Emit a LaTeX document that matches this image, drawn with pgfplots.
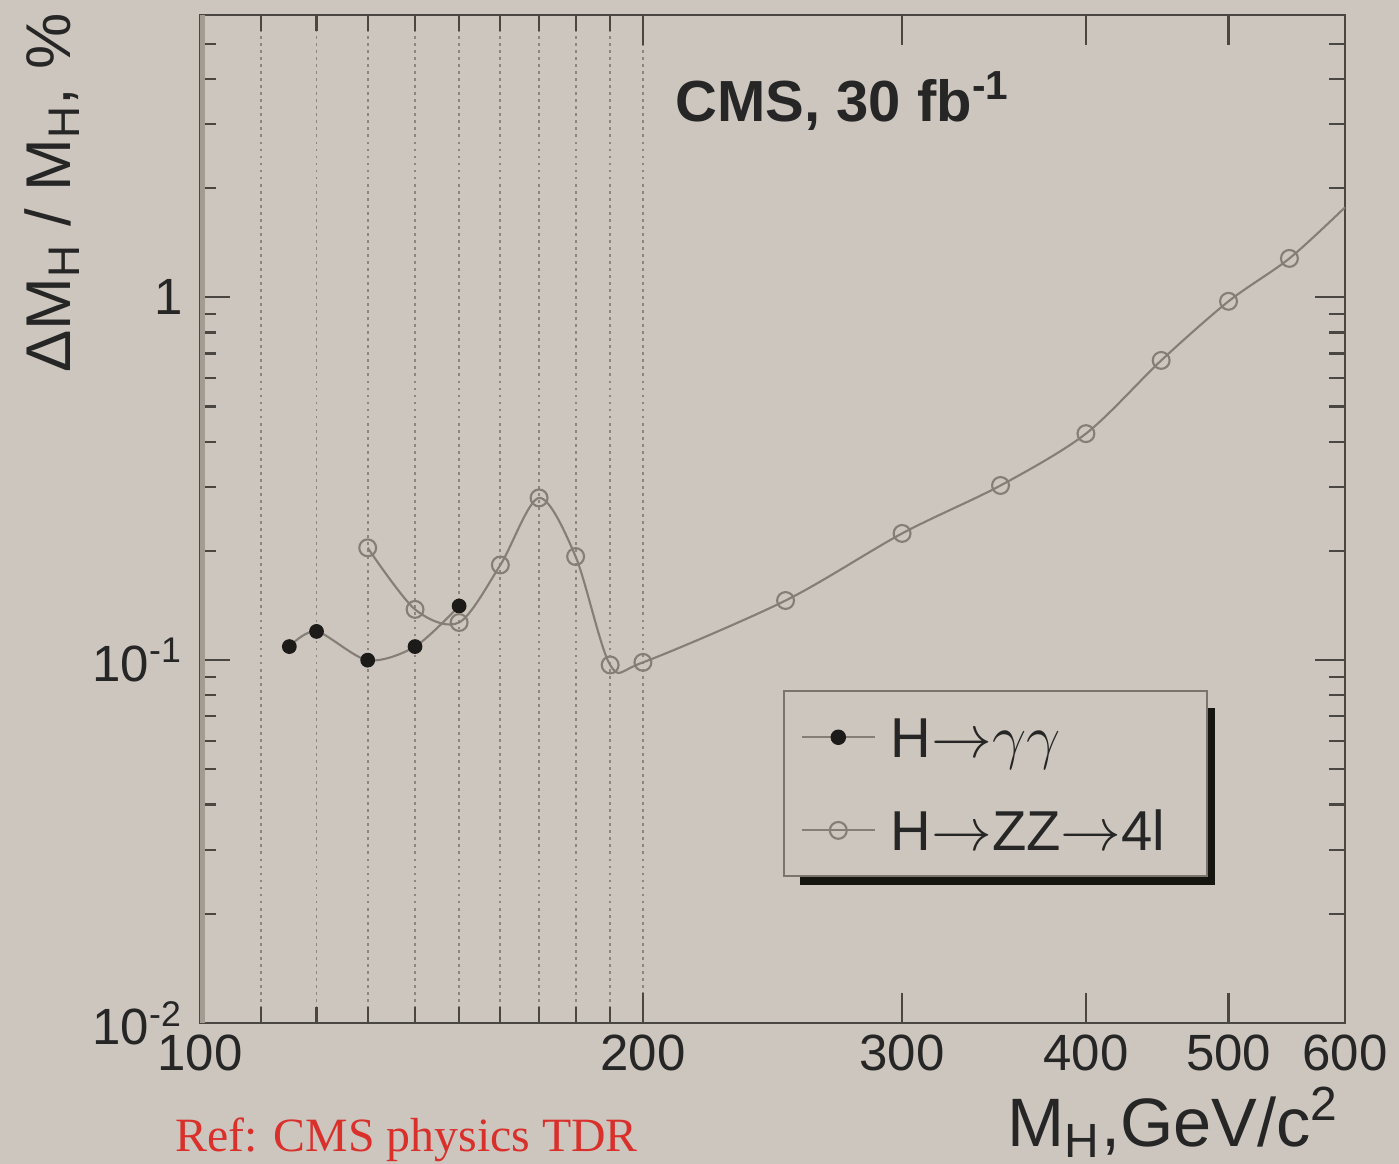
\documentclass[border=0pt]{standalone}
\usepackage{fontspec}
\setmainfont{Liberation Sans}
\newfontfamily\reffont{Liberation Serif}
\usepackage{pgfplots}
\pgfplotsset{compat=1.18}

\definecolor{bgc}{HTML}{CDC6BE}
\definecolor{axisc}{HTML}{4A4642}
\definecolor{curvec}{HTML}{857E76}
\definecolor{dotc}{HTML}{1C1B19}
\definecolor{gridc}{HTML}{8C867D}
\definecolor{bandc}{HTML}{A29C92}
\definecolor{legc}{HTML}{7A746C}
\definecolor{shadowc}{HTML}{16150F}
\definecolor{refc}{HTML}{D9302C}

\pgfplotsset{
  lineleg/.style={legend image code/.code={
      \draw[curvec, line width=0.6pt] (0cm,0cm) -- (0.73cm,0cm);
      \draw[##1] plot coordinates {(0.365cm,0cm)};}},
}

\begin{document}
\begin{tikzpicture}
\path[use as bounding box] (0,0) rectangle (13.99,11.64);
\fill[bgc] (0,0) rectangle (13.99,11.64);
% legend shadow
\fill[shadowc] (8.00,2.79) rectangle (12.15,4.56);
\begin{axis}[
  at={(2.00cm,1.41cm)}, anchor=south west,
  scale only axis, width=11.45cm, height=10.08cm,
  xmode=log, ymode=log,
  xmin=100, xmax=600, ymin=0.01, ymax=6,
  xtick={100,200,300,400,500,600},
  xticklabels={100,200,300,400,500,600},
  minor xtick={110,120,130,140,150,160,170,180,190,200},
  ytick={0.01,0.1,1},
  yticklabels={10\textsuperscript{-2},10\textsuperscript{-1},1},
  minor ytick={0.02,0.03,0.04,0.05,0.06,0.07,0.08,0.09,
               0.2,0.3,0.4,0.5,0.6,0.7,0.8,0.9,2,3,4,5},
  xminorgrids=true,
  minor x grid style={gridc, dash pattern=on 0.8pt off 1.2pt, line width=0.5pt},
  tick align=inside,
  major tick length=0.3cm, minor tick length=0.16cm,
  axis line style={axisc, line width=0.6pt},
  every tick/.style={axisc, line width=0.6pt},
  tick label style={font=\fontsize{14.5}{17}\selectfont, text=black!85},
  yticklabel style={xshift=-0.05cm},
  legend style={at={(0.509,0.330)}, anchor=north west,
    draw=legc, line width=0.6pt, fill=bgc,
    inner xsep=4.8pt, inner ysep=7.3pt, row sep=15pt,
    font=\fontsize{16}{19}\selectfont, text=black!85,
    nodes={inner sep=0pt, text height=11.5pt, text depth=0pt},
    /tikz/every odd column/.append style={column sep=0.15cm}},
  legend cell align=left,
]
\draw[bandc, line width=2.8pt] (axis cs:100,0.01) -- (axis cs:100,6);

% H -> gamma gamma
\addplot[smooth, curvec, line width=0.6pt, forget plot]
  coordinates {(115,0.109)(120,0.120)(130,0.100)(140,0.109)(150,0.141)};
\addplot[only marks, mark=*, mark size=1.9pt, mark options={fill=dotc, draw=dotc}, lineleg]
  coordinates {(115,0.109)(120,0.120)(130,0.100)(140,0.109)(150,0.141)};
\addlegendentry{H$\rightarrow$$\gamma\gamma$}

% H -> ZZ -> 4l
\addplot[smooth, curvec, line width=0.6pt, forget plot]
  coordinates {(130,0.204)(140,0.138)(150,0.127)(160,0.183)(170,0.280)(180,0.193)
               (190,0.097)(200,0.0986)(250,0.146)(300,0.2235)(350,0.303)(400,0.421)
               (450,0.67)(500,0.975)(550,1.28)(600,1.77)};
\addplot[only marks, mark=o, mark size=2.4pt, mark options={draw=curvec, line width=0.6pt}, lineleg]
  coordinates {(130,0.204)(140,0.138)(150,0.127)(160,0.183)(170,0.280)(180,0.193)
               (190,0.097)(200,0.0986)(250,0.146)(300,0.2235)(350,0.303)(400,0.421)
               (450,0.67)(500,0.975)(550,1.28)};
\addlegendentry{H$\rightarrow$ZZ$\rightarrow$4l\rule{0.25cm}{0pt}}
\end{axis}

\node[anchor=base west, inner sep=0pt, text=black!85,
      font=\fontsize{16.5}{19}\selectfont\bfseries] at (6.75,10.42) {CMS, 30 fb\textsuperscript{-1}};
\node[rotate=90, anchor=base east, inner sep=0pt, text=black!85,
      font=\fontsize{18}{22}\selectfont] at (0.70,11.51) {ΔM\textsubscript{H} / M\textsubscript{H}, \%};
\node[anchor=base east, inner sep=0pt, text=black!85,
      font=\fontsize{19.5}{24}\selectfont] at (13.40,0.17) {M\textsubscript{H},GeV/c\textsuperscript{2}};
\node[anchor=base west, inner sep=0pt, text=refc,
      font=\reffont\fontsize{13.6}{16}\selectfont] at (1.75,0.12) {Ref: CMS physics TDR};
\end{tikzpicture}
\end{document}
